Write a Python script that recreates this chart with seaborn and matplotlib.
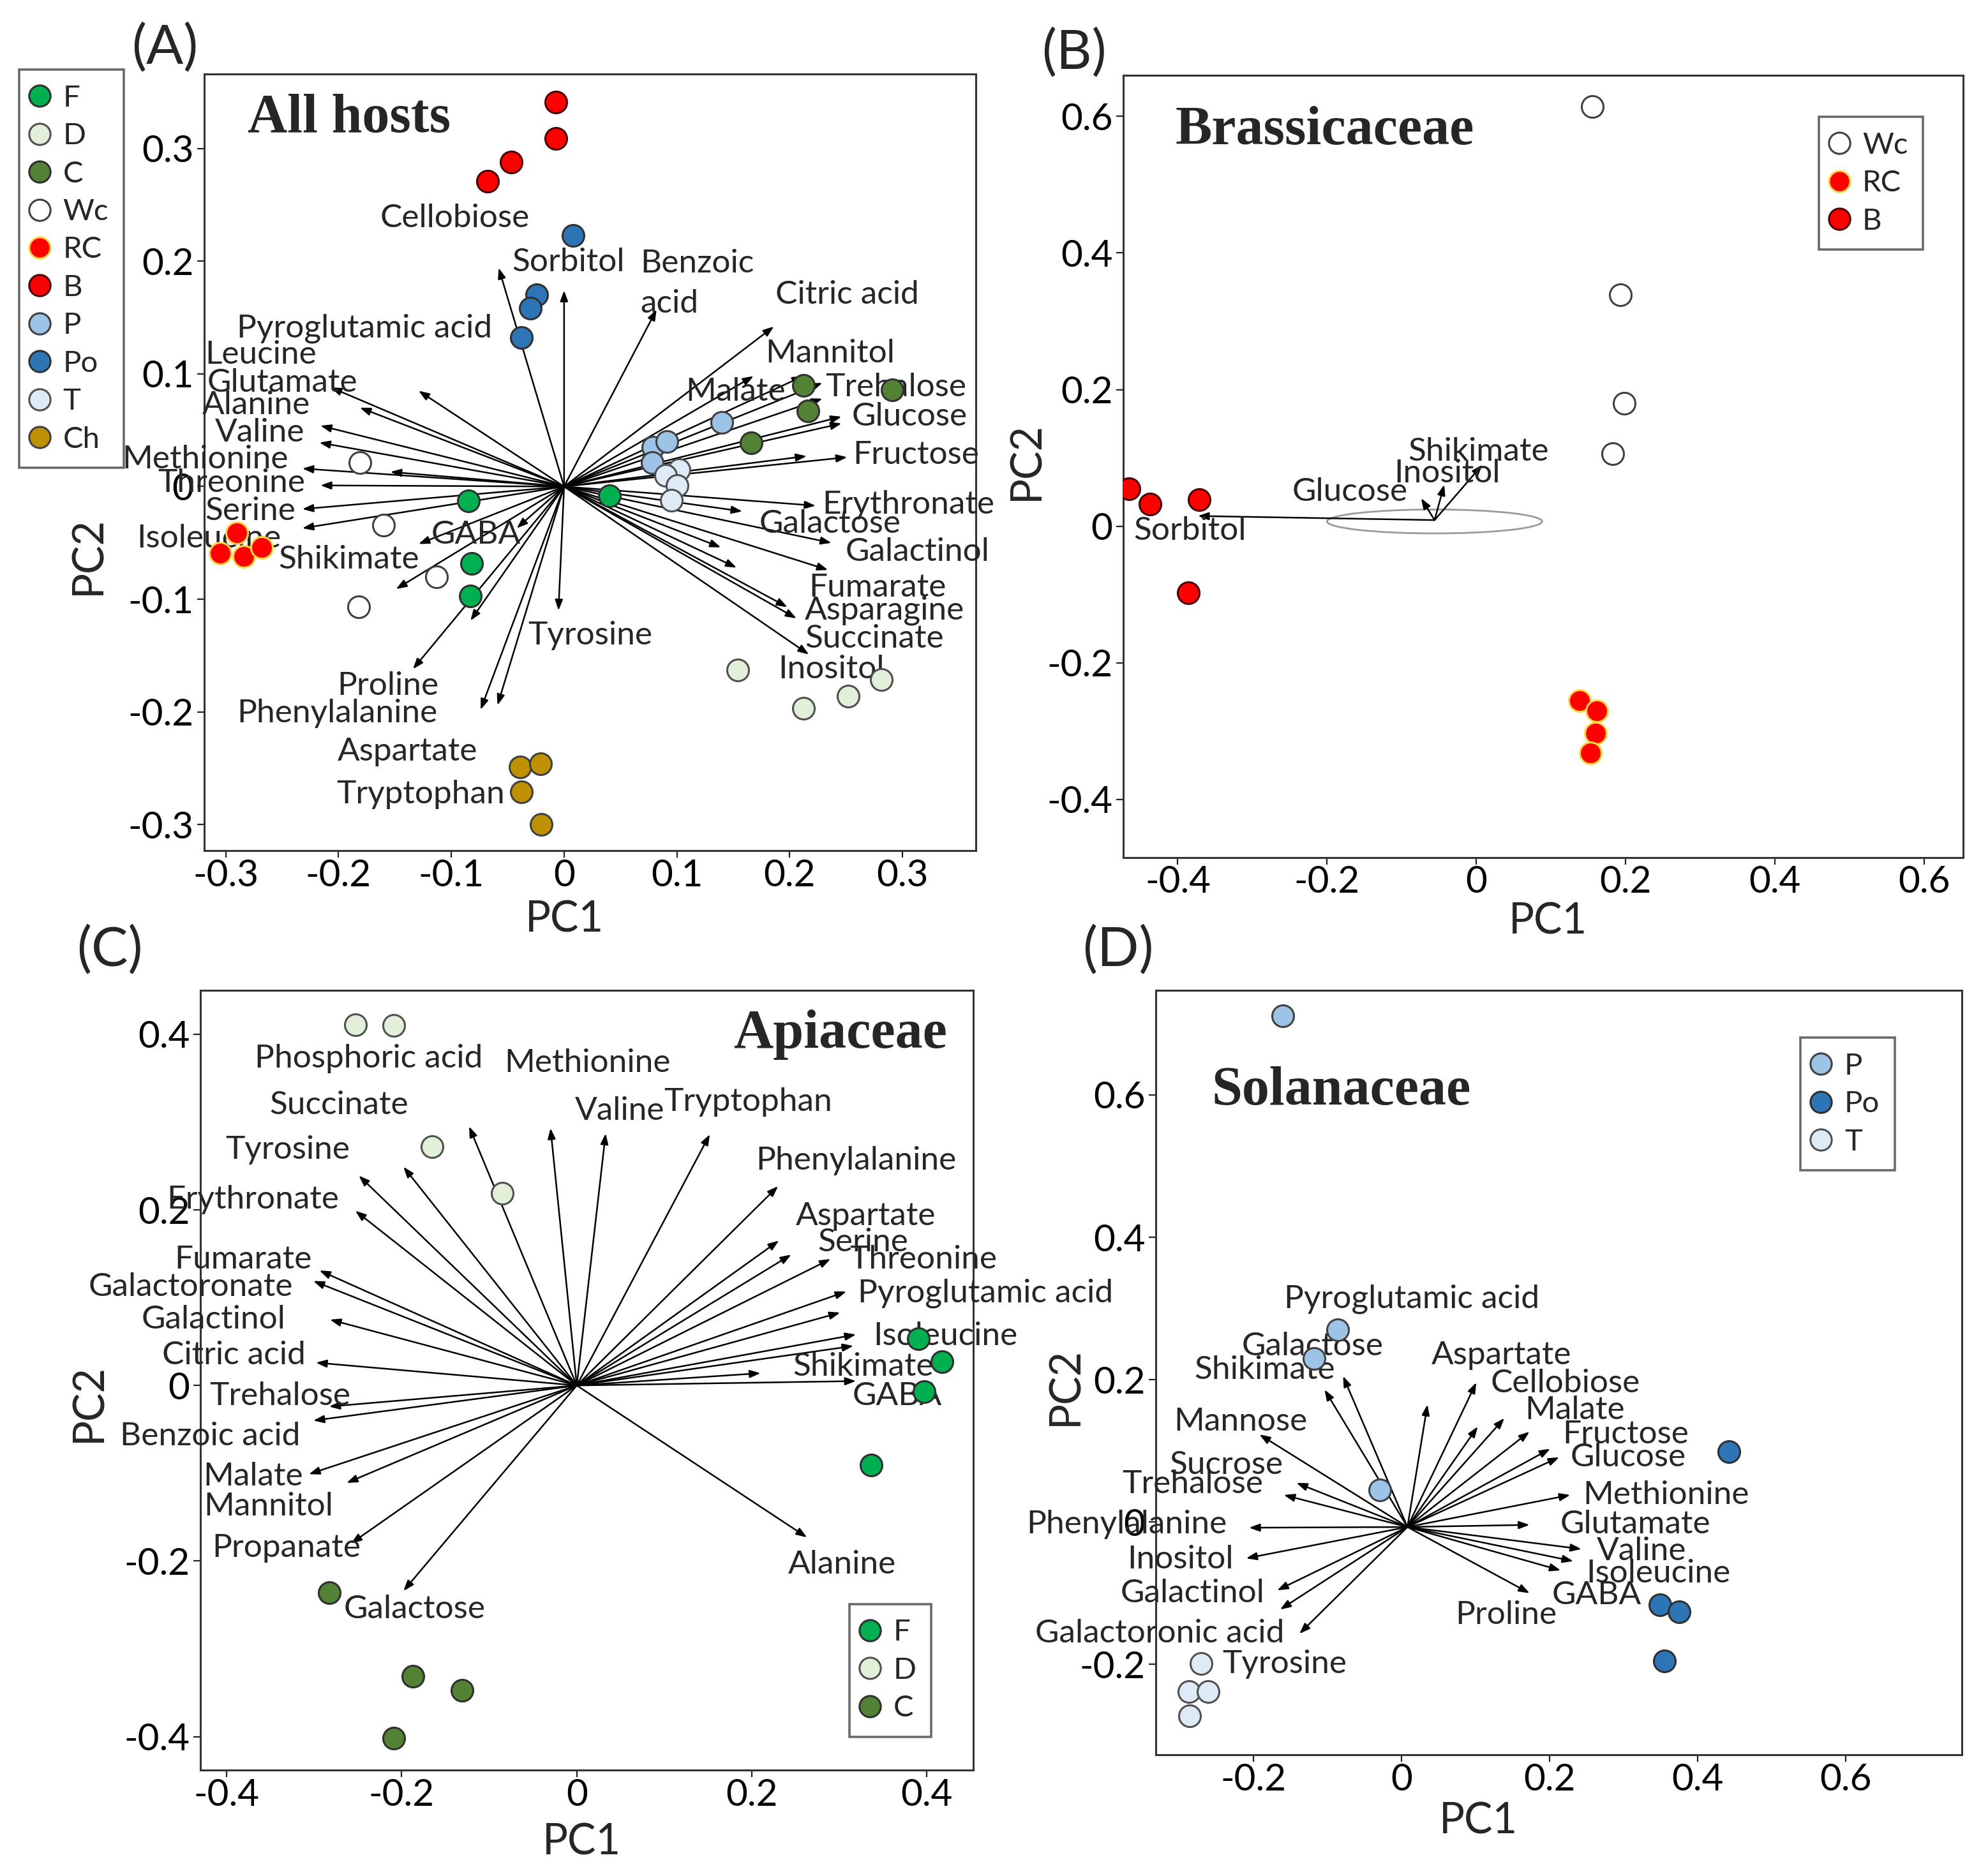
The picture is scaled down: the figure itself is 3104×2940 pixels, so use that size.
import numpy as np
import pandas as pd
import matplotlib
matplotlib.use('Agg')
from matplotlib import pyplot as plt
from matplotlib.lines import Line2D
from matplotlib.patches import Ellipse
from matplotlib.ticker import FuncFormatter
import seaborn as sns

# ---------------- colours of the groups ----------------
fill = {'F': '#00b050', 'D': '#e2f0d9', 'C': '#548235', 'Wc': '#ffffff', 'RC': '#ff0000',
        'B': '#ff0000', 'P': '#9dc3e6', 'Po': '#2e75b6', 'T': '#deebf7', 'Ch': '#bf9000'}
edge = {'F': '#303030', 'D': '#505050', 'C': '#303030', 'Wc': '#404040', 'RC': '#ffd54a',
        'B': '#4a0000', 'P': '#404040', 'Po': '#303030', 'T': '#505050', 'Ch': '#404040'}

# ---------------- (A) all hosts ----------------
a_group = ['B'] * 4 + ['RC'] * 4 + ['Po'] * 4 + ['P'] * 4 + ['T'] * 4 + ['C'] * 4 + \
          ['F'] * 4 + ['D'] * 4 + ['Wc'] * 4 + ['Ch'] * 4
a_pc1 = [-0.007, -0.007, -0.047, -0.068, -0.290, -0.305, -0.284, -0.268,
         0.008, -0.024, -0.030, -0.038, 0.140, 0.079, 0.091, 0.078,
         0.102, 0.090, 0.100, 0.095, 0.212, 0.216, 0.166, 0.291,
         -0.085, 0.040, -0.082, -0.083, 0.154, 0.212, 0.252, 0.281,
         -0.181, -0.160, -0.113, -0.182, -0.039, -0.021, -0.038, -0.020]
a_pc2 = [0.341, 0.309, 0.288, 0.271, -0.041, -0.059, -0.062, -0.054,
         0.223, 0.170, 0.158, 0.132, 0.057, 0.035, 0.040, 0.021,
         0.015, 0.010, 0.001, -0.012, 0.090, 0.067, 0.039, 0.086,
         -0.013, -0.008, -0.068, -0.097, -0.163, -0.197, -0.186, -0.171,
         0.021, -0.034, -0.080, -0.107, -0.249, -0.246, -0.271, -0.300]
a_var = ['Cellobiose', 'Sorbitol', 'Benzoic\nacid', 'Citric acid', 'Mannitol', 'Malate',
         'Trehalose', 'Glucose', '', '', 'Fructose', '', 'Erythronate', 'Galactose',
         'Galactinol', 'Fumarate', '', '', 'Asparagine', 'Succinate', 'Inositol',
         'Pyroglutamic acid', 'Leucine', 'Glutamate', 'Alanine', 'Valine', 'Methionine', '',
         'Threonine', 'Serine', 'Isoleucine', 'Shikimate', '', 'GABA', 'Proline',
         'Phenylalanine', 'Aspartate', 'Tryptophan', 'Tyrosine']
a_load1 = [-0.058, 0.000, 0.082, 0.186, 0.212, 0.168, 0.229, 0.246, 0.246, 0.229, 0.251, 0.215,
           0.223, 0.158, 0.237, 0.234, 0.139, 0.153, 0.198, 0.206, 0.217,
           -0.129, -0.207, -0.181, -0.216, -0.217, -0.232, -0.154, -0.216, -0.232, -0.232,
           -0.129, -0.149, -0.042, -0.134, -0.083, -0.074, -0.059, -0.005]
a_load2 = [0.194, 0.174, 0.157, 0.142, 0.098, 0.098, 0.092, 0.062, 0.056, 0.078, 0.026, 0.027,
           -0.017, -0.022, -0.050, -0.074, -0.054, -0.072, -0.107, -0.117, -0.149,
           0.085, 0.088, 0.070, 0.054, 0.039, 0.016, 0.013, 0.001, -0.020, -0.037,
           -0.051, -0.091, -0.037, -0.162, -0.119, -0.198, -0.194, -0.110]
a_lab1 = [-0.097, 0.004, 0.118, 0.251, 0.236, 0.152, 0.294, 0.306, 0, 0, 0.312, 0,
          0.305, 0.236, 0.313, 0.278, 0, 0, 0.284, 0.275, 0.237,
          -0.177, -0.269, -0.250, -0.273, -0.270, -0.318, 0, -0.295, -0.278, -0.315,
          -0.191, 0, -0.078, -0.156, -0.201, -0.139, -0.127, 0.023]
a_lab2 = [0.238, 0.199, 0.180, 0.170, 0.118, 0.084, 0.088, 0.062, 0, 0, 0.028, 0,
          -0.016, -0.033, -0.058, -0.090, 0, 0, -0.110, -0.135, -0.162,
          0.140, 0.117, 0.092, 0.072, 0.048, 0.024, 0, 0.003, -0.022, -0.046,
          -0.065, 0, -0.043, -0.177, -0.201, -0.235, -0.273, -0.132]

# ---------------- (B) Brassicaceae ----------------
b_group = ['Wc'] * 4 + ['B'] * 4 + ['RC'] * 4
b_pc1 = [0.155, 0.193, 0.198, 0.183, -0.465, -0.437, -0.371, -0.386, 0.138, 0.161, 0.160, 0.153]
b_pc2 = [0.614, 0.339, 0.180, 0.106, 0.055, 0.032, 0.039, -0.097, -0.255, -0.270, -0.303, -0.332]
b_var = ['Sorbitol', 'Glucose', 'Inositol', 'Shikimate']
b_load1 = [-0.373, -0.074, -0.043, 0.008]
b_load2 = [0.015, 0.041, 0.061, 0.090]
b_lab1 = [-0.384, -0.169, -0.039, 0.003]
b_lab2 = [-0.007, 0.050, 0.077, 0.109]
b_origin = (-0.056, 0.009)
b_ellipse = (-0.056, 0.007, 0.288, 0.035)  # centre x, centre y, width, height

# ---------------- (C) Apiaceae ----------------
c_group = ['D'] * 4 + ['F'] * 4 + ['C'] * 4
c_pc1 = [-0.253, -0.209, -0.165, -0.085, 0.390, 0.417, 0.397, 0.336, -0.283, -0.187, -0.131, -0.209]
c_pc2 = [0.411, 0.410, 0.272, 0.219, 0.053, 0.027, -0.007, -0.091, -0.236, -0.331, -0.347, -0.402]
c_var = ['Phosphoric acid', 'Methionine', 'Valine', 'Tryptophan', 'Succinate', 'Tyrosine',
         'Erythronate', 'Phenylalanine', 'Aspartate', 'Serine', 'Threonine', 'Pyroglutamic acid',
         '', 'Isoleucine', '', 'Shikimate', 'GABA', 'Alanine', 'Fumarate', 'Galactoronate',
         'Galactinol', 'Citric acid', 'Trehalose', 'Benzoic acid', 'Malate', 'Mannitol',
         'Propanate', 'Galactose']
c_load1 = [-0.123, -0.030, 0.033, 0.152, -0.198, -0.249, -0.253, 0.230, 0.231, 0.245, 0.290,
           0.308, 0.301, 0.319, 0.316, 0.210, 0.319, 0.263, -0.294, -0.301, -0.282, -0.298,
           -0.283, -0.301, -0.306, -0.263, -0.258, -0.198]
c_load2 = [0.295, 0.293, 0.287, 0.286, 0.249, 0.239, 0.199, 0.227, 0.165, 0.149, 0.144,
           0.107, 0.083, 0.058, 0.045, 0.014, 0.005, -0.173, 0.131, 0.119, 0.075, 0.026,
           -0.024, -0.040, -0.101, -0.111, -0.180, -0.234]
c_lab1 = [-0.238, 0.012, 0.049, 0.196, -0.272, -0.330, -0.370, 0.319, 0.330, 0.327, 0.396,
          0.467, 0, 0.421, 0, 0.327, 0.366, 0.303, -0.381, -0.441, -0.415, -0.392,
          -0.339, -0.419, -0.370, -0.352, -0.332, -0.185]
c_lab2 = [0.372, 0.367, 0.313, 0.323, 0.319, 0.268, 0.212, 0.256, 0.193, 0.163, 0.143,
          0.105, 0, 0.056, 0, 0.021, -0.012, -0.204, 0.143, 0.112, 0.075, 0.034,
          -0.012, -0.058, -0.104, -0.138, -0.185, -0.255]

# ---------------- (D) Solanaceae ----------------
d_group = ['P'] * 4 + ['Po'] * 4 + ['T'] * 4
d_pc1 = [-0.160, -0.086, -0.118, -0.029, 0.442, 0.349, 0.375, 0.355, -0.271, -0.287, -0.261, -0.286]
d_pc2 = [0.711, 0.270, 0.230, 0.045, 0.099, -0.116, -0.126, -0.195, -0.199, -0.238, -0.238, -0.272]
d_var = ['Pyroglutamic acid', 'Shikimate', 'Galactose', 'Aspartate', 'Cellobiose', 'Malate',
         '', '', 'Fructose', 'Glucose', 'Methionine', 'Glutamate', 'Valine', 'Isoleucine',
         'GABA', 'Proline', 'Mannose', 'Sucrose', 'Trehalose', 'Phenylalanine', 'Inositol',
         'Galactinol', '', 'Galactoronic acid', 'Tyrosine']
d_load1 = [-0.079, -0.104, np.nan, 0.035, 0.101, 0.139, 0.103, 0.173, 0.201, 0.213, 0.228,
           0.173, 0.243, 0.232, 0.215, 0.173, -0.192, -0.142, -0.159, -0.206, -0.210, -0.168,
           -0.164, -0.138, np.nan]
d_load2 = [0.205, 0.186, np.nan, 0.165, 0.196, 0.146, 0.134, 0.127, 0.103, 0.091, 0.038,
           -0.004, -0.038, -0.055, -0.068, -0.100, 0.123, 0.055, 0.038, -0.008, -0.051, -0.096,
           -0.123, -0.157, np.nan]
d_lab1 = [0.014, -0.185, -0.120, 0.135, 0.221, 0.234, 0, 0, 0.303, 0.306, 0.357, 0.316, 0.324,
          0.347, 0.264, 0.141, -0.217, -0.237, -0.282, -0.371, -0.299, -0.282, 0, -0.327, -0.158]
d_lab2 = [0.313, 0.214, 0.247, 0.234, 0.195, 0.157, 0, 0, 0.123, 0.091, 0.038, -0.003, -0.041,
          -0.072, -0.103, -0.131, 0.141, 0.080, 0.053, -0.003, -0.053, -0.100, 0, -0.157, -0.200]
d_origin = (0.008, -0.007)

sns.set_style('white')
plt.rcParams['font.family'] = ['Lato', 'DejaVu Sans']
plt.rcParams['axes.unicode_minus'] = False

W, H = 3104, 2940
fig = plt.figure(figsize=(W / 200, H / 200), dpi=200)


def box(l, t, r, b):
    return [l / W, 1 - b / H, (r - l) / W, (b - t) / H]


axA = fig.add_axes(box(320, 116, 1529, 1333))
axB = fig.add_axes(box(1760, 118, 3076, 1344))
axC = fig.add_axes(box(314, 1552, 1525, 2774))
axD = fig.add_axes(box(1811, 1552, 3074, 2750))


def draw_panel(ax, group, pc1, pc2, var, l1, l2, t1, t2, origin=(0, 0)):
    # loadings as arrows from the origin
    for name, x, y, lx, ly in zip(var, l1, l2, t1, t2):
        if not np.isnan(x):
            ax.annotate('', xy=(x, y), xytext=origin,
                        arrowprops=dict(arrowstyle='-|>,head_length=0.55,head_width=0.2',
                                        color='black', lw=0.9, mutation_scale=9,
                                        shrinkA=0, shrinkB=0), zorder=2)
        if name:
            ax.text(lx, ly, name, fontsize=18.5, ha='center', va='center',
                    multialignment='left', linespacing=1.45, zorder=3)
    # scores
    df = pd.DataFrame({'PC1': pc1, 'PC2': pc2, 'grp': group})
    for g in df['grp'].unique():
        sub = df[df['grp'] == g]
        sns.scatterplot(data=sub, x='PC1', y='PC2', color=fill[g], edgecolor=edge[g],
                        linewidth=1.1, s=150, ax=ax, zorder=5, legend=False)


def style_axes(ax, xlim, ylim, xt, yt, xl, yl):
    ax.set_xlim(xlim)
    ax.set_ylim(ylim)
    ax.set_xticks(xt)
    ax.set_yticks(yt)
    fmt = FuncFormatter(lambda v, p: '%g' % round(v, 2))
    ax.xaxis.set_major_formatter(fmt)
    ax.yaxis.set_major_formatter(fmt)
    ax.tick_params(axis='both', direction='out', length=4, width=0.8, colors='#222222',
                   labelsize=21, labelcolor='black')
    ax.tick_params(axis='x', pad=0.5)
    ax.tick_params(axis='y', pad=2)
    ax.tick_params(bottom=True, left=True)
    for s in ax.spines.values():
        s.set_visible(True)
        s.set_color('#333333')
        s.set_linewidth(1.1)
    ax.set_xlabel('PC1', fontsize=24)
    ax.set_ylabel('PC2', fontsize=24)
    ax.xaxis.set_label_coords(*xl)
    ax.yaxis.set_label_coords(*yl)
    ax.xaxis.label.set_va('center')
    ax.yaxis.label.set_va('center')


def handles(names):
    return [Line2D([], [], marker='o', linestyle='', markersize=12, markerfacecolor=fill[n],
                   markeredgecolor=edge[n], markeredgewidth=1.1) for n in names]


leg_kw = dict(frameon=True, fancybox=False, fontsize=17, handlelength=0.35, handletextpad=0.6,
              borderpad=0.5, borderaxespad=0, labelspacing=0.37)

# (A)
draw_panel(axA, a_group, a_pc1, a_pc2, a_var, a_load1, a_load2, a_lab1, a_lab2)
style_axes(axA, (-0.319, 0.365), (-0.323, 0.366), np.arange(-0.3, 0.31, 0.1),
           np.arange(-0.3, 0.31, 0.1), (0.467, -0.089), (-0.150, 0.38))
axA.text(0.056, 0.942, 'All hosts', transform=axA.transAxes, fontsize=31, fontweight='bold',
         family='Liberation Serif', ha='left', va='center')
names_a = ['F', 'D', 'C', 'Wc', 'RC', 'B', 'P', 'Po', 'T', 'Ch']
lg = fig.legend(handles(names_a), names_a, loc='upper left',
                bbox_to_anchor=(30 / W, 1 - 109 / H), **leg_kw)
lg.get_frame().set_edgecolor('#444444')
lg.get_frame().set_linewidth(1.3)

# (B)
draw_panel(axB, b_group, b_pc1, b_pc2, b_var, b_load1, b_load2, b_lab1, b_lab2, origin=b_origin)
axB.add_patch(Ellipse(b_ellipse[:2], b_ellipse[2], b_ellipse[3], fill=False,
                      edgecolor='#9a9a9a', lw=1.0, zorder=1))
style_axes(axB, (-0.473, 0.652), (-0.485, 0.660), np.arange(-0.4, 0.61, 0.2),
           np.arange(-0.4, 0.61, 0.2), (0.506, -0.082), (-0.1155, 0.507))
axB.text(0.062, 0.929, 'Brassicaceae', transform=axB.transAxes, fontsize=31, fontweight='bold',
         family='Liberation Serif', ha='left', va='center')
names_b = ['Wc', 'RC', 'B']
lg = axB.legend(handles(names_b), names_b, loc='upper left', bbox_to_anchor=(0.828, 0.947),
                **leg_kw)
lg.get_frame().set_edgecolor('#444444')
lg.get_frame().set_linewidth(1.3)

# (C)
draw_panel(axC, c_group, c_pc1, c_pc2, c_var, c_load1, c_load2, c_lab1, c_lab2)
style_axes(axC, (-0.43, 0.453), (-0.438, 0.45), np.arange(-0.4, 0.41, 0.2),
           np.arange(-0.4, 0.41, 0.2), (0.493, -0.0925), (-0.1445, 0.471))
axC.text(0.69, 0.943, 'Apiaceae', transform=axC.transAxes, fontsize=31, fontweight='bold',
         family='Liberation Serif', ha='left', va='center')
names_c = ['F', 'D', 'C']
lg = axC.legend(handles(names_c), names_c, loc='lower left', bbox_to_anchor=(0.840, 0.0426),
                **leg_kw)
lg.get_frame().set_edgecolor('#444444')
lg.get_frame().set_linewidth(1.3)

# (D)
draw_panel(axD, d_group, d_pc1, d_pc2, d_var, d_load1, d_load2, d_lab1, d_lab2, origin=d_origin)
style_axes(axD, (-0.332, 0.757), (-0.327, 0.747), np.arange(-0.2, 0.61, 0.2),
           np.arange(-0.2, 0.61, 0.2), (0.40, -0.0876), (-0.112, 0.482))
axD.text(0.069, 0.868, 'Solanaceae', transform=axD.transAxes, fontsize=31, fontweight='bold',
         family='Liberation Serif', ha='left', va='center')
names_d = ['P', 'Po', 'T']
lg = axD.legend(handles(names_d), names_d, loc='upper left', bbox_to_anchor=(0.80, 0.938),
                **leg_kw)
lg.get_frame().set_edgecolor('#444444')
lg.get_frame().set_linewidth(1.3)

# panel letters
for letter, px, py in [('(A)', 258, 75), ('(B)', 1683, 83), ('(C)', 172, 1489), ('(D)', 1752, 1489)]:
    fig.text(px / W, 1 - py / H, letter, fontsize=31, ha='center', va='center')

fig.savefig('out.png', dpi=200)
